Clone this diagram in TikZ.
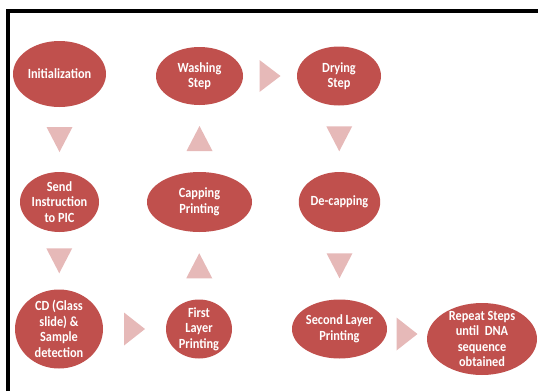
\documentclass[tikz,border=0pt]{standalone}
\usepackage{fontspec}
\setmainfont{Carlito}[FakeStretch=0.88]
\usetikzlibrary{calc,shapes.geometric}
\definecolor{stepred}{HTML}{C0504D}
\definecolor{steppink}{HTML}{E6B9B8}
\tikzset{stepnode/.style={ellipse, fill=stepred, text=white, align=center, inner xsep=0pt, inner ysep=-9pt, font=\bfseries\fontsize{14}{15.5}\selectfont}}
\def\blockarrow[#1:#2:#3](#4)(#5){\fill[steppink, shift={($(#4)!0.5!(#5)$)}, rotate=#1] (-#2,-#3) -- (-#2,#3) -- (#2,0) -- cycle;}

\begin{document}
\begin{tikzpicture}[x=1pt, y=-1pt]
		%%%%% START %%%%%
		\useasboundingbox (0, 0) rectangle (538, 391);
		\draw[line width=3.6pt] (7.7, 391) -- (7.7, 11.2) -- (538, 11.2);
		
		\node[stepnode, minimum width=93pt, minimum height=66pt] (init) at (59.5, 74) {Initialization};
		\node[stepnode, minimum width=87pt, minimum height=58pt] (wash) at (199.5, 76) {Washing\\Step};
		\node[stepnode, minimum width=84pt, minimum height=59pt] (dry) at (339, 76) {Drying\\Step};
		
		\node[stepnode, minimum width=79pt, minimum height=60pt] (send) at (59.5, 202) {Send\\Instruction\\to PIC};
		\node[stepnode, minimum width=105pt, minimum height=60pt] (cap) at (199.5, 202) {Capping\\Printing};
		\node[stepnode, minimum width=75pt, minimum height=60pt] (decap) at (339.5, 202) {De-capping};
		
		\node[stepnode, minimum width=88pt, minimum height=79pt] (cd) at (59, 329) {CD (Glass\\slide) \&\\Sample\\detection};
		\node[stepnode, minimum width=66pt, minimum height=59pt] (first) at (199, 329) {First\\Layer\\Printing};
		\node[stepnode, minimum width=95pt, minimum height=59pt] (second) at (339.5, 329) {Second Layer\\Printing};
		\node[stepnode, minimum width=110pt, minimum height=72pt] (repeat) at (482, 339) {Repeat Steps\\until\ \ DNA\\sequence\\obtained};
		
		% block arrows between the steps
		\blockarrow[-90:12.5:13](init.south)(send.north)
		\blockarrow[-90:12.5:13](send.south)(cd.north)
		\blockarrow[0:10.5:16.5](cd.east)(first.west)
		\blockarrow[90:12.5:13](first.north)(cap.south)
		\blockarrow[90:12.5:13](cap.north)(wash.south)
		\blockarrow[0:10.5:16](wash.east)(dry.west)
		\blockarrow[-90:12.5:13](dry.south)(decap.north)
		\blockarrow[-90:12.5:13](decap.south)(second.north)
		\blockarrow[0:10.5:16.5](second.east)(repeat.west)
		%%%%% END %%%%%
\end{tikzpicture}
\end{document}
